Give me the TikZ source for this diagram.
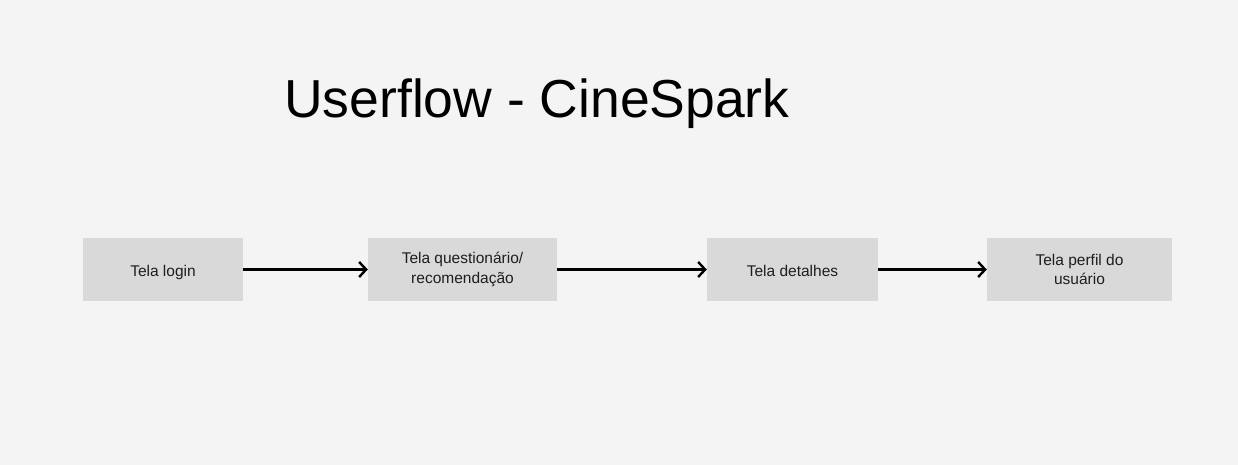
\documentclass[tikz,border=0pt]{standalone}
\usepackage{fontspec}
\setmainfont{Liberation Sans}
\usetikzlibrary{arrows.meta}
\definecolor{bgc}{HTML}{F4F4F4}
\definecolor{boxc}{HTML}{D9D9D9}
\definecolor{txtc}{HTML}{1E1E1E}
\begin{document}
\begin{tikzpicture}[x=1pt,y=-1pt,
  screen/.style={fill=boxc, draw=none, inner sep=0pt, align=center, text=txtc, font=\fontsize{15.5}{19.5}\selectfont, minimum height=63pt},
  single/.style={screen, text height=15pt, text depth=2pt},
  flow/.style={line width=2.4pt, -{Straight Barb[length=7pt,width=15pt,line width=2.4pt]}}]
\fill[bgc] (0,0) rectangle (1238,465);
\useasboundingbox (0,0) rectangle (1238,465);
\node[anchor=base west, inner sep=0pt, font=\fontsize{53.5}{60}\selectfont] (title) at (284,118) {Userflow - CineSpark};
\node[single, minimum width=160pt] (login) at (163,269.5) {Tela login};
\node[screen, minimum width=189pt] (quest) at (462.5,269.5) {Tela questionário/\\recomendação};
\node[single, minimum width=171pt] (det) at (792.5,269.5) {Tela detalhes};
\node[screen, minimum width=185pt] (perf) at (1079.5,269.5) {Tela perfil do\\usuário};
\draw[flow] (login.east) -- (quest.west);
\draw[flow] (quest.east) -- (det.west);
\draw[flow] (det.east) -- (perf.west);
\end{tikzpicture}
\end{document}
